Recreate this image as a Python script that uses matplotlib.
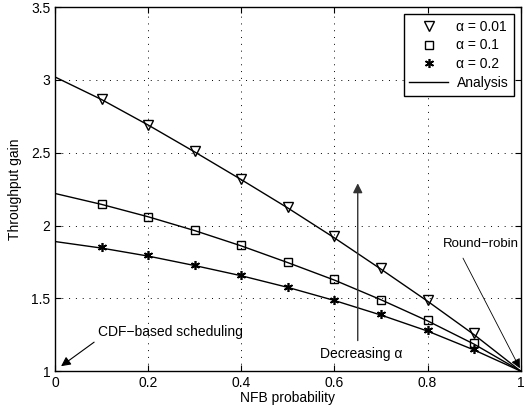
import matplotlib.pyplot as plt
import numpy as np

plt.rcParams['font.family'] = ['Liberation Sans', 'DejaVu Sans']

# NFB probability
p_sim = [0.1, 0.2, 0.3, 0.4, 0.5, 0.6, 0.7, 0.8, 0.9]
p_ana = [0.0, 0.1, 0.2, 0.3, 0.4, 0.5, 0.6, 0.7, 0.8, 0.9, 1.0]

# simulation markers
sim_001 = [2.87, 2.69, 2.51, 2.32, 2.13, 1.93, 1.71, 1.49, 1.26]
sim_01 = [2.15, 2.06, 1.97, 1.865, 1.75, 1.63, 1.49, 1.35, 1.19]
sim_02 = [1.85, 1.80, 1.73, 1.66, 1.58, 1.49, 1.39, 1.28, 1.15]

# analysis curves
ana_001 = [3.02, 2.865, 2.69, 2.505, 2.315, 2.12, 1.915, 1.70, 1.48, 1.25, 1.0]
ana_01 = [2.22, 2.145, 2.06, 1.965, 1.86, 1.745, 1.625, 1.49, 1.345, 1.185, 1.0]
ana_02 = [1.89, 1.845, 1.79, 1.725, 1.655, 1.575, 1.485, 1.385, 1.275, 1.145, 1.0]

labels = ['\u03b1 = 0.01', '\u03b1 = 0.1', '\u03b1 = 0.2']

fig = plt.figure(figsize=(5.26, 4.17), dpi=100)
ax = fig.add_axes([0.1046, 0.110, 0.8854, 0.873])

for ana in [ana_001, ana_01, ana_02]:
    ax.plot(p_ana, ana, color='black', linewidth=1)

ax.plot(p_sim, sim_001, linestyle='none', marker='v', markersize=7,
        markerfacecolor='none', markeredgecolor='black', label=labels[0])
ax.plot(p_sim, sim_01, linestyle='none', marker='s', markersize=5.5,
        markerfacecolor='none', markeredgecolor='black', label=labels[1])
ax.plot(p_sim, sim_02, linestyle='none', marker=(6, 2, 0), markersize=6.5,
        markeredgewidth=1.2, color='black', label=labels[2])
ax.plot([], [], color='black', linewidth=1, label='Analysis')

ax.set_xlim(0, 1)
ax.set_ylim(1, 3.5)
ax.set_xticks([0, 0.2, 0.4, 0.6, 0.8, 1])
ax.set_xticklabels(['0', '0.2', '0.4', '0.6', '0.8', '1'])
ax.set_yticks([1, 1.5, 2, 2.5, 3, 3.5])
ax.set_yticklabels(['1', '1.5', '2', '2.5', '3', '3.5'])
ax.tick_params(direction='in', top=True, right=True, labelsize=10, length=4)
ax.grid(True, linestyle=(0, (1, 6)), color='black', linewidth=0.7)
for s in ax.spines.values():
    s.set_linewidth(1)

ax.set_xlabel('NFB probability', fontsize=10, labelpad=1)
ax.set_ylabel('Throughput gain', fontsize=10, labelpad=6)

leg = ax.legend(loc='upper right', fontsize=10, fancybox=False, framealpha=1,
                edgecolor='black', handlelength=2.8, borderaxespad=0.5,
                labelspacing=0.35, handletextpad=0.6)
leg.get_frame().set_linewidth(1)

ax.text(0.092, 1.268, 'CDF\u2212based scheduling', fontsize=10, ha='left', va='center')
ax.annotate('', xy=(0.013, 1.034), xytext=(0.084, 1.199),
            arrowprops=dict(arrowstyle='-|>', color='black', linewidth=0.8,
                            mutation_scale=14, shrinkA=0, shrinkB=0))

ax.annotate('', xy=(0.65, 2.29), xytext=(0.65, 1.21),
            arrowprops=dict(arrowstyle='-|>', color='#333333', linewidth=1,
                            mutation_scale=14, shrinkA=0, shrinkB=0))
ax.text(0.745, 1.117, 'Decreasing \u03b1', fontsize=10, ha='right', va='center')

ax.text(0.997, 1.872, 'Round\u2212robin', fontsize=9.5, ha='right', va='center')
ax.annotate('', xy=(0.998, 1.02), xytext=(0.876, 1.776),
            arrowprops=dict(arrowstyle='-|>', color='black', linewidth=0.6,
                            mutation_scale=14, shrinkA=0, shrinkB=0))

fig.savefig('out.png', dpi=100)
